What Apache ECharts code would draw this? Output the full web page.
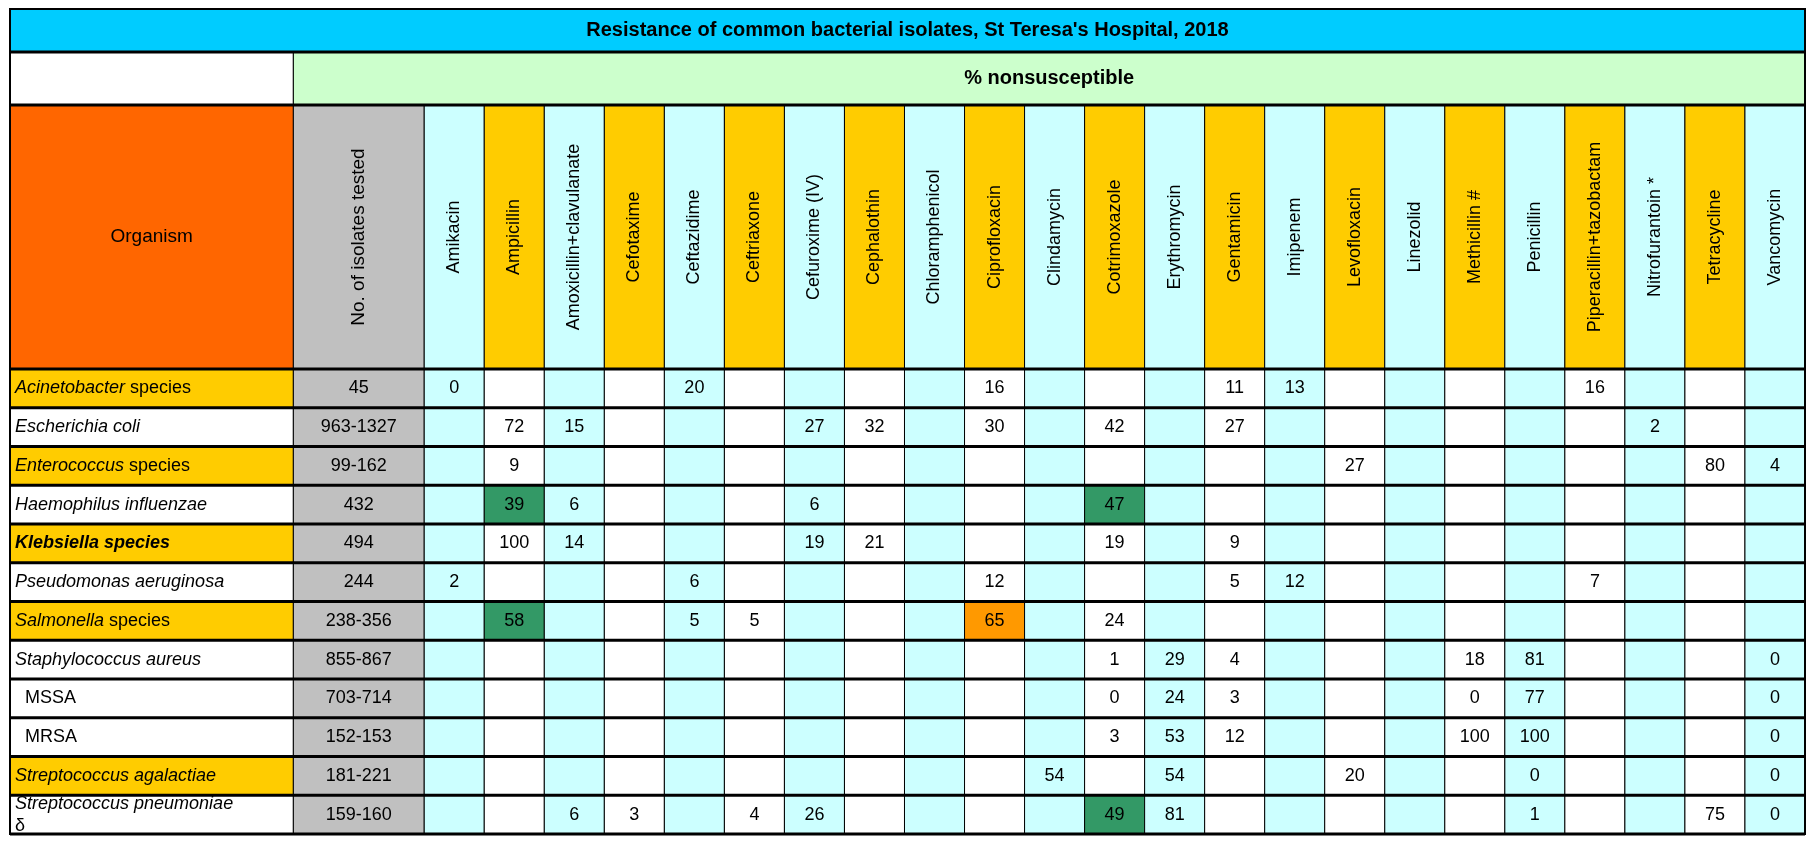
<!DOCTYPE html>
<html>
<head>
<meta charset="utf-8">
<script src="https://cdn.jsdelivr.net/npm/echarts@6/dist/echarts.min.js"></script>
<style>html,body{margin:0;padding:0;background:#fff}#chart{width:1818px;height:843px}</style>
</head>
<body>
<div id="chart"></div>
<script>
var titleText = "Resistance of common bacterial isolates, St Teresa's Hospital, 2018"
var subText = '% nonsusceptible'
var drugs = ['Amikacin', 'Ampicillin', 'Amoxicillin+clavulanate', 'Cefotaxime', 'Ceftazidime', 'Ceftriaxone',
  'Cefuroxime (IV)', 'Cephalothin', 'Chloramphenicol', 'Ciprofloxacin', 'Clindamycin', 'Cotrimoxazole',
  'Erythromycin', 'Gentamicin', 'Imipenem', 'Levofloxacin', 'Linezolid', 'Methicillin #', 'Penicillin',
  'Piperacillin+tazobactam', 'Nitrofurantoin *', 'Tetracycline', 'Vancomycin']
// organism labels use rich text tags: {i|..} italic, {b|..} bold italic
var organisms = ['{i|Acinetobacter} species', '{i|Escherichia coli}', '{i|Enterococcus} species',
  '{i|Haemophilus influenzae}', '{b|Klebsiella species}', '{i|Pseudomonas aeruginosa}', '{i|Salmonella} species',
  '{i|Staphylococcus aureus}', '  MSSA', '  MRSA', '{i|Streptococcus agalactiae}', '{i|Streptococcus pneumoniae}\nδ']
var goldRows = [0, 2, 4, 6, 10]
var isolates = ['45', '963-1327', '99-162', '432', '494', '244', '238-356', '855-867', '703-714', '152-153', '181-221', '159-160']
var _ = null
var acinetobacter = [0, _, _, _, 20, _, _, _, _, 16, _, _, _, 11, 13, _, _, _, _, 16, _, _, _]
var ecoli         = [_, 72, 15, _, _, _, 27, 32, _, 30, _, 42, _, 27, _, _, _, _, _, _, 2, _, _]
var enterococcus  = [_, 9, _, _, _, _, _, _, _, _, _, _, _, _, _, 27, _, _, _, _, _, 80, 4]
var haemophilus   = [_, 39, 6, _, _, _, 6, _, _, _, _, 47, _, _, _, _, _, _, _, _, _, _, _]
var klebsiella    = [_, 100, 14, _, _, _, 19, 21, _, _, _, 19, _, 9, _, _, _, _, _, _, _, _, _]
var pseudomonas   = [2, _, _, _, 6, _, _, _, _, 12, _, _, _, 5, 12, _, _, _, _, 7, _, _, _]
var salmonella    = [_, 58, _, _, 5, 5, _, _, _, 65, _, 24, _, _, _, _, _, _, _, _, _, _, _]
var saureus       = [_, _, _, _, _, _, _, _, _, _, _, 1, 29, 4, _, _, _, 18, 81, _, _, _, 0]
var mssa          = [_, _, _, _, _, _, _, _, _, _, _, 0, 24, 3, _, _, _, 0, 77, _, _, _, 0]
var mrsa          = [_, _, _, _, _, _, _, _, _, _, _, 3, 53, 12, _, _, _, 100, 100, _, _, _, 0]
var agalactiae    = [_, _, _, _, _, _, _, _, _, _, 54, _, 54, _, _, 20, _, _, 0, _, _, _, 0]
var pneumoniae    = [_, _, 6, 3, _, 4, 26, _, _, _, _, 49, 81, _, _, _, _, _, 1, _, _, 75, 0]
var values = [acinetobacter, ecoli, enterococcus, haemophilus, klebsiella, pseudomonas, salmonella, saureus, mssa, mrsa, agalactiae, pneumoniae]
// highlighted cells [row, col, colour]
var highlights = [[3, 1, '#339966'], [3, 11, '#339966'], [6, 1, '#339966'], [6, 9, '#FF9900'], [11, 11, '#339966']]

var font = 'Liberation Sans, Arial, sans-serif'
var cyan = '#CCFFFF', gold = '#FFCC00'
// column widths in drug-column units, band heights in data-row units
var W0 = 4.72, W1 = 2.18
var hTitle = 1.11, hSub = 1.37, hHead = 6.81
var H = hTitle + hSub + hHead
var X = W0 + W1 + drugs.length

function colX(c) { return c === -2 ? [0, W0] : c === -1 ? [W0, W0 + W1] : [W0 + W1 + c, W0 + W1 + c + 1] }

var cells = []
function cell(x0, x1, y0, y1, fill, text, opt) {
  cells.push(Object.assign({value: [x0, y0, x1, y1], fill: fill, text: text}, opt || {}))
}
cell(0, X, 0, hTitle, '#00CCFF', titleText, {fontWeight: 'bold', size: 20})
cell(0, W0, hTitle, hTitle + hSub, '#fff', '')
cell(W0, X, hTitle, hTitle + hSub, '#CCFFCC', subText, {fontWeight: 'bold', size: 20})
cell(0, W0, hTitle + hSub, H, '#FF6600', 'Organism', {size: 19})
cell(W0, W0 + W1, hTitle + hSub, H, '#C0C0C0', 'No. of isolates tested', {size: 19, rotate: true})
drugs.forEach(function (d, i) {
  var x = colX(i)
  cell(x[0], x[1], hTitle + hSub, H, i % 2 ? gold : cyan, d, {size: 18, rotate: true})
})
organisms.forEach(function (o, r) {
  var y0 = H + r, y1 = H + r + 1
  cell(0, W0, y0, y1, goldRows.indexOf(r) >= 0 ? gold : '#fff', o, {size: 18, align: 'left', rich: true})
  cell(W0, W0 + W1, y0, y1, '#C0C0C0', isolates[r], {size: 18})
  values[r].forEach(function (v, c) {
    var x = colX(c), fill = c % 2 ? '#fff' : cyan
    highlights.forEach(function (h) { if (h[0] === r && h[1] === c) fill = h[2] })
    cell(x[0], x[1], y0, y1, fill, v === null ? '' : String(v), {size: 18})
  })
})
var thickY = [hTitle, hTitle + hSub, H]
for (var r = 1; r <= organisms.length; r++) thickY.push(H + r)

var chart = echarts.init(document.getElementById('chart'))
chart.setOption({
  animation: false,
  grid: {left: 10, right: 13, top: 9, bottom: 9},
  xAxis: {type: 'value', min: 0, max: X, show: false},
  yAxis: {type: 'value', min: 0, max: H + organisms.length, inverse: true, show: false},
  series: [{
    type: 'custom',
    data: cells,
    renderItem: function (params, api) {
      var it = cells[params.dataIndex]
      var p0 = api.coord([api.value(0), api.value(1)])
      var p1 = api.coord([api.value(2), api.value(3)])
      var w = p1[0] - p0[0], h = p1[1] - p0[1]
      var style = {
        text: it.text, fill: '#000', font: (it.fontWeight || 'normal') + ' ' + it.size + 'px ' + font,
        align: it.align || 'center', verticalAlign: 'middle'
      }
      if (it.rich) {
        style.rich = {
          i: {fontStyle: 'italic', fontSize: it.size, fontFamily: font},
          b: {fontStyle: 'italic', fontWeight: 'bold', fontSize: it.size, fontFamily: font}
        }
        style.lineHeight = 22
      }
      var tx = it.align === 'left' ? p0[0] + 5 : p0[0] + w / 2
      return {
        type: 'group',
        children: [
          {type: 'rect', shape: {x: p0[0], y: p0[1], width: w, height: h},
            style: {fill: it.fill, stroke: '#000', lineWidth: 1}},
          {type: 'text', x: tx, y: p0[1] + h / 2, rotation: it.rotate ? Math.PI / 2 : 0, style: style}
        ]
      }
    }
  }, {
    type: 'custom',
    data: thickY.map(function (y) { return [y] }),
    renderItem: function (params, api) {
      var a = api.coord([0, api.value(0)]), b = api.coord([X, api.value(0)])
      return {type: 'line', shape: {x1: a[0], y1: a[1], x2: b[0], y2: b[1]}, style: {stroke: '#000', lineWidth: 3}}
    }
  }, {
    type: 'custom',
    data: [[0]],
    renderItem: function (params, api) {
      var a = api.coord([0, 0]), b = api.coord([X, H + organisms.length])
      return {type: 'rect', shape: {x: a[0], y: a[1], width: b[0] - a[0], height: b[1] - a[1]},
        style: {fill: 'none', stroke: '#000', lineWidth: 2}}
    }
  }]
})
</script>
</body>
</html>
